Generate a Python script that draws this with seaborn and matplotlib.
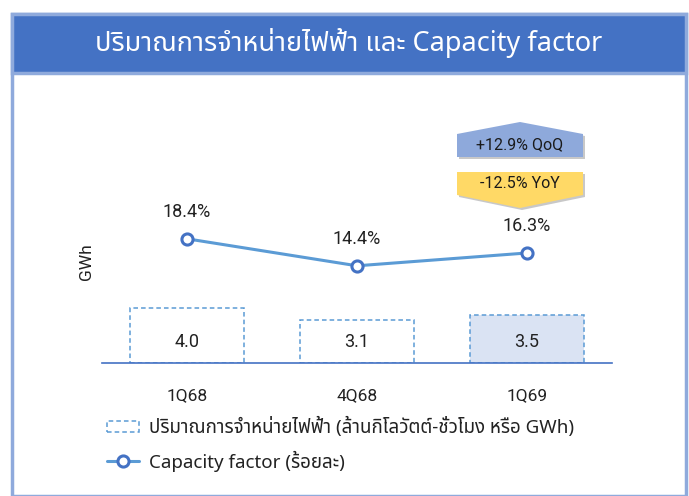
import matplotlib
matplotlib.use("Agg")
import matplotlib.pyplot as plt
import seaborn as sns
import pandas as pd
from matplotlib.patches import Rectangle, Polygon
from matplotlib.lines import Line2D

# Data
quarters = ["1Q68", "4Q68", "1Q69"]
sales_gwh = [4.0, 3.1, 3.5]
capacity_factor = [18.4, 14.4, 16.3]
bar_fills = ["white", "white", "#DAE3F3"]
title = "ปริมาณการจำหน่ายไฟฟ้า และ Capacity factor"
legend_bar = "ปริมาณการจำหน่ายไฟฟ้า (ล้านกิโลวัตต์-ชั่วโมง หรือ GWh)"
legend_line = "Capacity factor (ร้อยละ)"
qoq_text = "+12.9% QoQ"
yoy_text = "-12.5% YoY"

df = pd.DataFrame({"quarter": quarters, "gwh": sales_gwh, "cf": capacity_factor})

sns.set_theme(style="white")
thai_fonts = ["Noto Sans Thai", "Kanit", "Prompt", "Sarabun", "Athiti", "DejaVu Sans"]
plt.rcParams["font.family"] = ["Roboto"] + thai_fonts

fig = plt.figure(figsize=(6.89, 4.96), dpi=100)

# frame + header
fig.patches.append(Rectangle((12 / 689, 0), 674 / 689, 482 / 496, transform=fig.transFigure,
                             facecolor="none", edgecolor="#8FAADC", lw=2.5, zorder=-1))
fig.patches.append(Rectangle((12 / 689, 1 - 73 / 496), 674 / 689, 59 / 496, transform=fig.transFigure,
                             facecolor="#4472C4", edgecolor="#8FAADC", lw=2.5, zorder=1))
fig.text(349 / 689, 1 - 43 / 496, title, color="white", fontsize=19.5, ha="center", va="center",
         family=thai_fonts)

ax = fig.add_axes([102 / 689, 1 - 363 / 496, 510 / 689, 254 / 496])
ax.set_facecolor("none")

sns.barplot(data=df, x="quarter", y="gwh", ax=ax, width=0.67, color="white")
for patch, fc in zip(ax.patches, bar_fills):
    patch.set_facecolor(fc)
    patch.set_edgecolor("#5B9BD5")
    patch.set_linestyle((0, (3, 2)))
    patch.set_linewidth(1.1)
label_y = min(sales_gwh) / 2
for i, v in enumerate(sales_gwh):
    ax.text(i, label_y, f"{v:.1f}", ha="center", va="center", fontsize=13, color="#222222")

ax.set_xlim(-0.5, 2.5)
ax.set_ylim(0, 254 / 13.75)
ax.set_yticks([])
ax.set_xlabel("")
ax.set_ylabel("GWh", fontsize=12.5, color="#222222")
ax.yaxis.set_label_coords(-0.016, 0.40)
ax.tick_params(axis="x", length=0, pad=18, labelsize=12.5, labelcolor="#222222")
for side in ["top", "right", "left"]:
    ax.spines[side].set_visible(False)
ax.spines["bottom"].set_color("#4472C4")
ax.spines["bottom"].set_linewidth(1.2)

ax2 = ax.twinx()
sns.lineplot(data=df, x="quarter", y="cf", ax=ax2, color="#5B9BD5", lw=2.2, marker="o",
             markersize=8, markerfacecolor="white", markeredgecolor="#4472C4", markeredgewidth=2.2)
ax2.set_ylim(0, 254 / 6.75)
ax2.set_yticks([])
ax2.set_ylabel("")
ax2.set_xlabel("")
for side in ["top", "right", "left", "bottom"]:
    ax2.spines[side].set_visible(False)
for i, v in enumerate(capacity_factor):
    ax2.annotate(f"{v:.1f}%", (i, v), xytext=(0, 13), textcoords="offset points",
                 ha="center", va="bottom", fontsize=13, color="#222222")


# QoQ / YoY badges
def fx(px):
    return px / 689


def fy(py):
    return 1 - py / 496


up = [(457, 134), (520, 122), (583, 134), (583, 157), (457, 157)]
down = [(457, 172), (583, 172), (583, 195), (520, 208), (457, 195)]
for pts, col in [(up, "#8EA9DB"), (down, "#FFD966")]:
    shadow = Polygon([(fx(x + 2), fy(y + 2)) for x, y in pts], transform=fig.transFigure,
                     facecolor="#C8C8C8", edgecolor="none", zorder=2)
    shape = Polygon([(fx(x), fy(y)) for x, y in pts], transform=fig.transFigure,
                    facecolor=col, edgecolor="none", zorder=3)
    fig.patches.extend([shadow, shape])
fig.text(fx(520), fy(145), qoq_text, ha="center", va="center", fontsize=11.5, color="#1a1a1a", zorder=4)
fig.text(fx(520), fy(184), yoy_text, ha="center", va="center", fontsize=11.5, color="#1a1a1a", zorder=4)

# legend
handles = [
    Rectangle((0, 0), 1, 1, facecolor="white", edgecolor="#5B9BD5", linestyle=(0, (3, 2)), lw=1.1),
    Line2D([0], [0], color="#5B9BD5", lw=2.2, marker="o", markersize=8, markerfacecolor="white",
           markeredgecolor="#4472C4", markeredgewidth=2.2),
]
fig.legend(handles, [legend_bar, legend_line], loc="upper left", bbox_to_anchor=(107 / 689, 1 - 417 / 496),
           frameon=False, borderpad=0, borderaxespad=0, handlelength=1.7, handleheight=0.6,
           labelspacing=0.72, handletextpad=0.55,
           labelcolor="#222222", prop={"family": thai_fonts, "size": 13.5})

fig.savefig("out.png", dpi=100)
